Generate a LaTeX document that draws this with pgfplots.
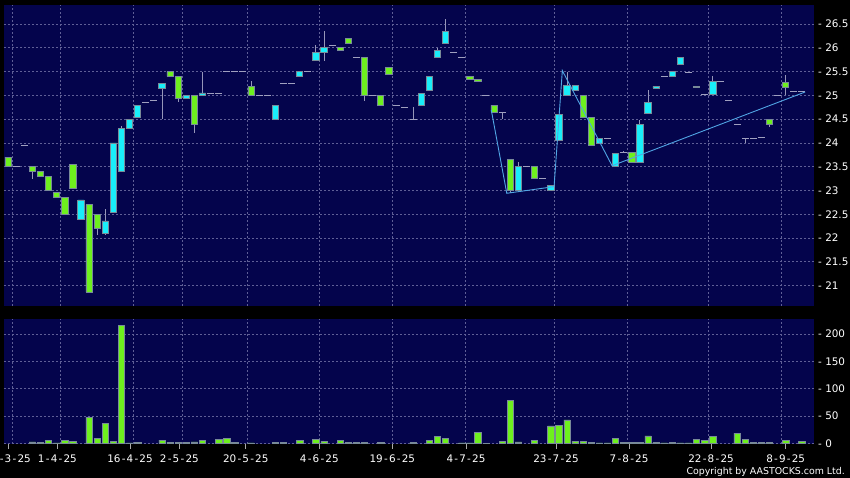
\documentclass[border=0pt]{standalone}
\usepackage{fontspec}
\setmainfont{DejaVu Sans}
\usepackage{pgfplots}
\usepackage{pgfplotstable}
\pgfplotsset{compat=1.18}
\definecolor{navy}{RGB}{4,4,76}
\definecolor{gridc}{RGB}{95,95,150}
\definecolor{upc}{RGB}{25,238,250}
\definecolor{dnc}{RGB}{110,240,30}
\definecolor{edgec}{RGB}{120,138,152}
\definecolor{wickc}{RGB}{150,150,185}
\definecolor{dashc}{RGB}{160,160,192}
\definecolor{zzc}{RGB}{80,165,228}
\definecolor{tickc}{RGB}{170,170,170}

\pgfplotstableread{
i o h l c
0 23.70 23.70 23.51 23.51
1 23.51 23.51 23.51 23.51
2 23.95 23.95 23.95 23.95
3 23.51 23.51 23.25 23.40
4 23.40 23.40 23.30 23.30
5 23.30 23.30 23.00 23.00
6 22.95 22.95 22.86 22.86
7 22.86 22.86 22.50 22.50
8 23.55 23.55 23.05 23.05
9 22.40 22.80 22.40 22.80
10 22.70 22.70 20.86 20.86
11 22.50 22.50 22.06 22.21
12 22.10 22.61 22.06 22.36
13 22.54 24.00 22.54 24.00
14 23.40 24.36 23.40 24.31
15 24.31 24.50 24.31 24.50
16 24.54 24.79 24.54 24.79
17 24.85 24.85 24.85 24.85
18 24.90 24.90 24.90 24.90
19 25.15 25.25 24.50 25.25
20 25.50 25.50 25.40 25.40
21 25.40 25.40 24.85 24.94
22 24.94 25.00 24.94 25.00
23 25.00 25.00 24.20 24.39
24 25.00 25.50 25.00 25.05
25 25.04 25.04 25.04 25.04
26 25.04 25.04 25.04 25.04
27 25.50 25.50 25.50 25.50
28 25.50 25.50 25.50 25.50
29 25.50 25.50 25.50 25.50
30 25.18 25.30 25.00 25.00
31 25.00 25.00 25.00 25.00
32 25.00 25.00 25.00 25.00
33 24.50 24.79 24.50 24.79
34 25.25 25.25 25.25 25.25
35 25.25 25.25 25.25 25.25
36 25.40 25.50 25.40 25.50
37 25.50 25.50 25.50 25.50
38 25.73 26.06 25.73 25.90
39 25.90 26.35 25.73 26.00
40 26.06 26.06 26.06 26.06
41 26.00 26.00 25.94 25.94
42 26.20 26.20 26.09 26.09
43 25.80 25.80 25.80 25.80
44 25.80 25.80 24.89 25.00
45 25.00 25.00 25.00 25.00
46 25.00 25.00 24.79 24.79
47 25.59 25.59 25.44 25.44
48 24.79 24.79 24.79 24.79
49 24.75 24.75 24.75 24.75
50 24.50 24.75 24.50 24.50
51 24.79 25.04 24.79 25.04
52 25.10 25.40 25.10 25.40
53 25.80 26.00 25.80 25.95
54 26.09 26.60 26.09 26.35
55 25.90 25.90 25.90 25.90
56 25.80 25.80 25.80 25.80
57 25.40 25.40 25.34 25.34
58 25.34 25.34 25.29 25.29
59 25.00 25.00 25.00 25.00
60 24.79 24.79 24.64 24.64
61 24.64 24.64 24.50 24.64
62 23.66 23.66 22.94 23.00
63 23.00 23.59 23.00 23.51
64 23.51 23.51 23.51 23.51
65 23.51 23.51 23.26 23.26
66 23.26 23.26 23.26 23.26
67 23.00 23.11 23.00 23.11
68 24.06 24.60 24.06 24.60
69 25.00 25.50 25.00 25.20
70 25.10 25.20 25.10 25.20
71 25.00 25.00 24.54 24.54
72 24.54 24.54 23.95 23.95
73 24.00 24.10 24.00 24.10
74 24.10 24.10 24.10 24.10
75 23.51 23.77 23.51 23.77
76 23.79 23.84 23.79 23.79
77 23.80 23.80 23.59 23.59
78 23.59 24.48 23.59 24.39
79 24.62 25.11 24.62 24.85
80 25.15 25.19 25.15 25.19
81 25.40 25.40 25.40 25.40
82 25.40 25.50 25.40 25.50
83 25.65 25.80 25.65 25.80
84 25.48 25.48 25.48 25.48
85 25.19 25.19 25.16 25.16
86 25.02 25.02 25.02 25.02
87 25.02 25.40 25.02 25.29
88 25.30 25.30 25.30 25.30
89 24.90 24.90 24.90 24.90
90 24.39 24.39 24.39 24.39
91 24.10 24.10 24.00 24.10
92 24.10 24.10 24.10 24.10
93 24.12 24.12 24.12 24.12
94 24.49 24.49 24.34 24.39
95 25.00 25.00 25.00 25.00
96 25.28 25.42 25.00 25.17
97 25.09 25.09 25.09 25.09
98 25.08 25.08 25.08 25.08
}\candles

\pgfplotstableread{
i v
3 3
4 2
5 6
6 1
7 5
8 4
10 48
11 9
12 37
13 4
14 216
15 1
16 2
19 6
20 2
21 2
22 2
23 3
24 5
26 7
27 9
28 2
30 1
33 2
34 2
36 5
38 8
39 4
41 6
42 2
43 2
44 2
46 2
50 2
52 5
53 13
54 9
56 1
57 1
58 20
59 0.5
61 4
62 79
63 3
65 6
67 32
68 33
69 43
70 4
71 4
72 2
73 1
74 1
75 10
76 2
77 2
78 2
79 14
80 2
81 1
82 2
83 1
84 1
85 7
86 5
87 13
90 19
91 7
92 2
93 2
94 2
96 6
98 4
}\volume

\newcommand\hy{\kern1.2pt-\kern1.2pt}

\pgfplotsset{
  base/.style={scale only axis, width=810pt, xmin=-0.5, xmax=99.5,
    axis line style={draw=none}, unbounded coords=discard,
    font=\fontsize{10.4}{12}\selectfont,
    /pgf/number format/assume math mode=true},
  price/.style={at={(4pt,-5pt)}, anchor=north west, height=301pt, ymin=20.57, ymax=26.90},
  gridx/.style={extra x ticks={0.53,6.46,15.47,21.52,29.54,38.43,47.44,56.46,67.44,76.46,86.46,95.5},
    extra x tick labels={}, extra x tick style={grid=major, major tick length=0pt, tick style={draw=none}},
    grid style={draw=gridc, line width=0.6pt, dash pattern=on 2pt off 2pt}},
}

\begin{document}
\begin{tikzpicture}[x=1pt,y=1pt]
\fill[black] (0pt,0pt) rectangle (850pt,-478pt);

% price panel: background, grid, labels, wicks
\begin{axis}[base, price, gridx,
  axis background/.style={fill=navy},
  xtick=\empty,
  ytick={21,21.5,22,22.5,23,23.5,24,24.5,25,25.5,26,26.5}, ymajorgrids,
  yticklabel pos=right, tick align=outside, major tick length=5pt,
  ytick style={draw=none},
  yticklabel={- \pgfmathprintnumber{\tick}},
  yticklabel style={text=white, anchor=west, inner sep=0pt, xshift=-1pt},
  /pgf/number format/.cd, fixed, precision=1]
\addplot[only marks, mark=*, mark size=0pt, mark options={draw=none, fill=none},
  error bars/.cd, y dir=both, y explicit,
  error mark=none, error mark options={draw=none, fill=none, mark size=0pt},
  error bar style={draw=wickc, line width=0.8pt, solid}]
  table[x=i, y expr={(\thisrow{h}>\thisrow{l}) ? (\thisrow{h}+\thisrow{l})/2 : nan},
        y error expr={(\thisrow{h}-\thisrow{l})/2}] {\candles};
\end{axis}

% rising candle bodies
\begin{axis}[base, price, hide axis, ybar stacked, bar width=6.3pt]
\addplot[draw=none, fill=none] table[x=i, y expr={(\thisrow{c}>\thisrow{o}) ? \thisrow{o} : nan}] {\candles};
\addplot[fill=upc, draw=edgec, line width=0.7pt] table[x=i, y expr={(\thisrow{c}>\thisrow{o}) ? \thisrow{c}-\thisrow{o} : nan}] {\candles};
\end{axis}

% falling candle bodies
\begin{axis}[base, price, hide axis, ybar stacked, bar width=6.3pt]
\addplot[draw=none, fill=none] table[x=i, y expr={(\thisrow{o}>\thisrow{c}) ? \thisrow{c} : nan}] {\candles};
\addplot[fill=dnc, draw=edgec, line width=0.7pt] table[x=i, y expr={(\thisrow{o}>\thisrow{c}) ? \thisrow{o}-\thisrow{c} : nan}] {\candles};
\end{axis}

% flat-day dashes and zigzag line
\begin{axis}[base, price, hide axis]
\addplot[only marks, mark=*, mark size=0pt, mark options={draw=none, fill=none},
  error bars/.cd, x dir=both, x fixed=0.43,
  error mark=none, error mark options={draw=none, fill=none, mark size=0pt},
  error bar style={draw=dashc, line width=0.8pt, solid}]
  table[x=i, y expr={(\thisrow{o}==\thisrow{c}) ? \thisrow{c} : nan}] {\candles};
\addplot[zzc, line width=0.9pt, mark=none] coordinates {(59.66,24.69) (61.57,22.94) (67.41,23.08) (68.43,25.52) (74.57,23.52) (98.4,25.07)};
\end{axis}

% volume panel
\begin{axis}[base, gridx, at={(4pt,-319pt)}, anchor=north west, height=124.5pt, ymin=0, ymax=227,
  axis background/.style={fill=navy},
  ybar, bar width=6.3pt,
  xtick={0,6.09,15.06,21.15,29.35,38.43,47.44,56.54,67.65,76.67,86.79,96.0},
  xticklabels={24\hy3\hy25,1\hy4\hy25,16\hy4\hy25,2\hy5\hy25,20\hy5\hy25,4\hy6\hy25,19\hy6\hy25,4\hy7\hy25,23\hy7\hy25,7\hy8\hy25,22\hy8\hy25,8\hy9\hy25},
  xtick pos=bottom, tick align=outside, major tick length=5pt,
  xtick style={draw=tickc, line width=0.7pt},
  xticklabel style={text=white, yshift=-3pt},
  ytick={0,50,100,150,200}, ymajorgrids,
  yticklabel pos=right, ytick style={draw=none},
  yticklabel={- \pgfmathprintnumber{\tick}},
  yticklabel style={text=white, anchor=west, inner sep=0pt, xshift=-1pt}]
\addplot[fill=dnc, draw=edgec, line width=0.6pt] table[x=i, y=v] {\volume};
\end{axis}

\node[anchor=east, text=white, font=\fontsize{9.4}{11}\selectfont, inner sep=0pt] at (845pt,-471.5pt) {Copyright by AASTOCKS.com Ltd.};

\pgfresetboundingbox
\path[use as bounding box] (0pt,0pt) rectangle (850pt,-478pt);
\end{tikzpicture}
\end{document}
